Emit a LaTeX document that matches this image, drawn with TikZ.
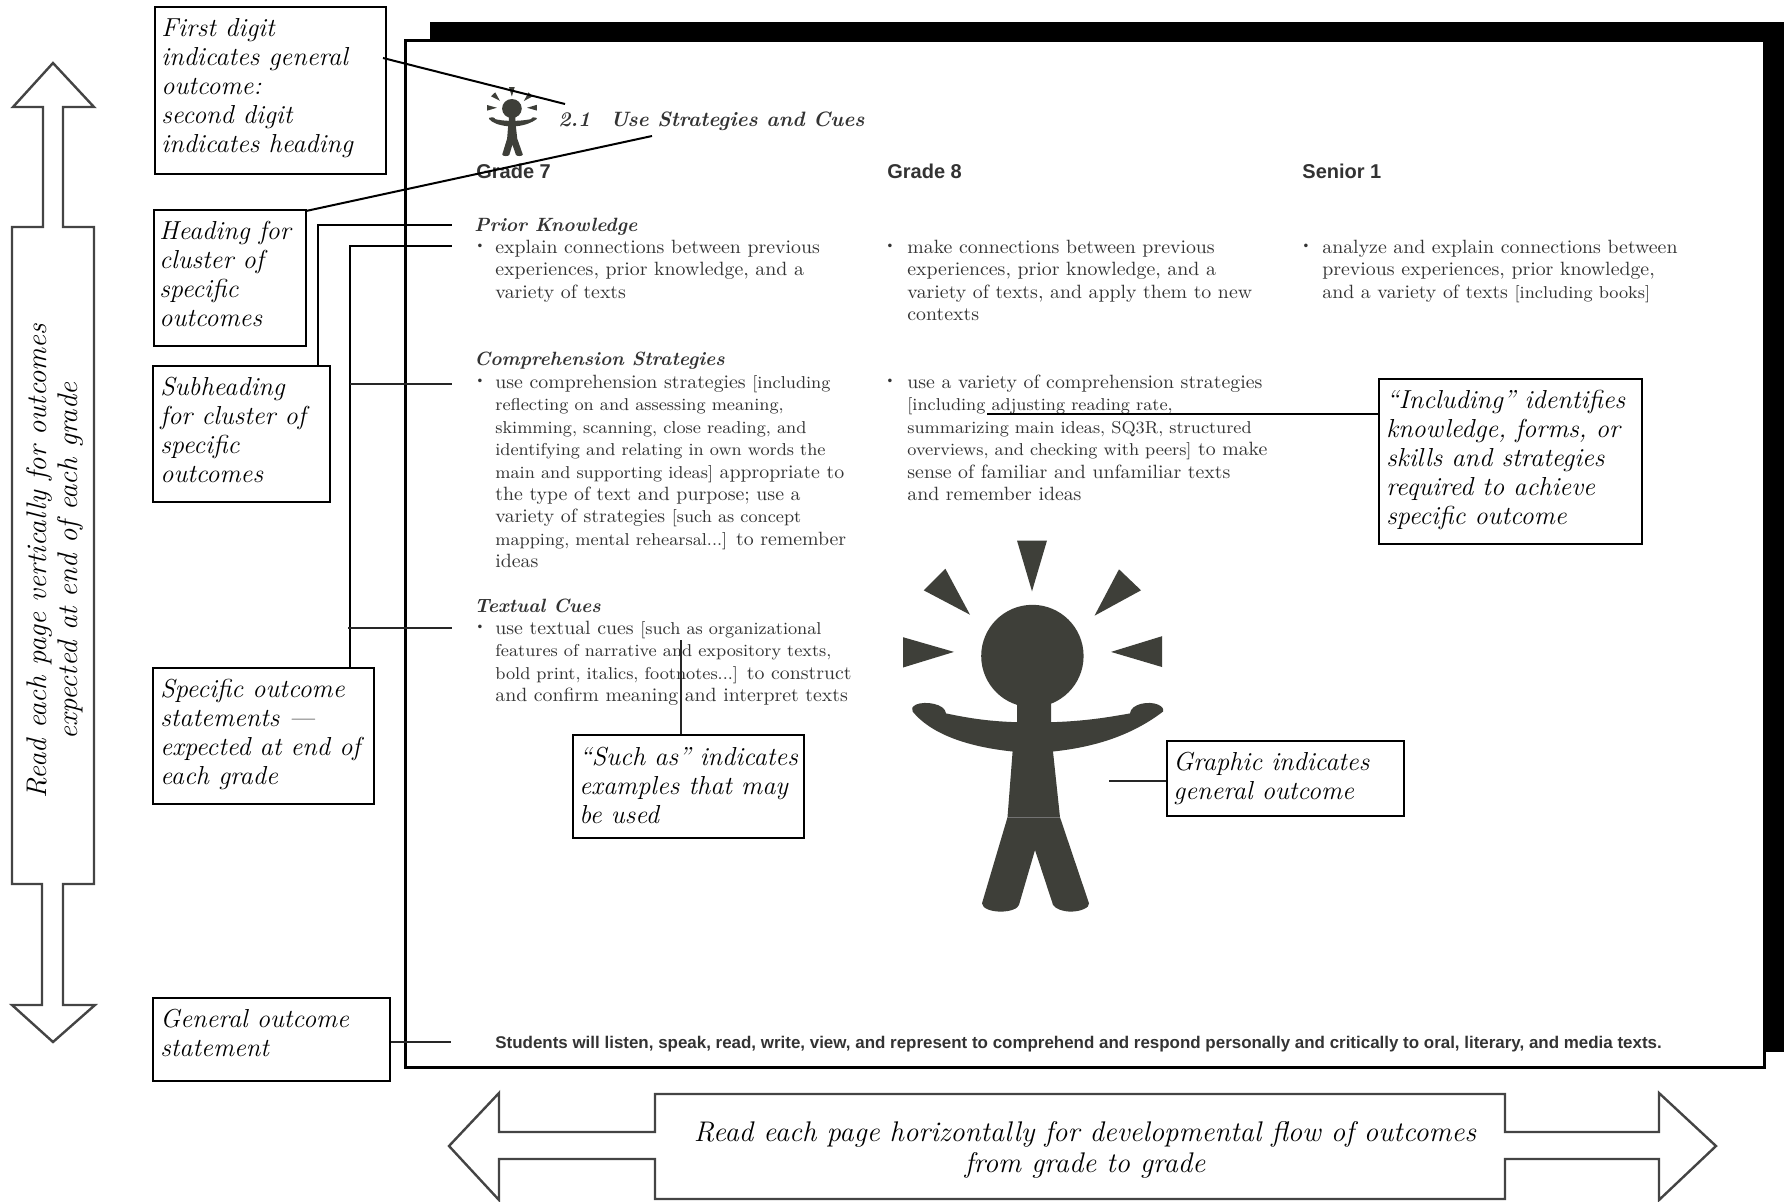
\documentclass[tikz,border=0pt]{standalone}
\usepackage{fontspec}
\setmainfont{Latin Modern Roman}
\setsansfont{Liberation Sans}
\newfontfamily\callfam[ItalicFeatures={FakeStretch=1.012}]{Latin Modern Roman}
\newfontfamily\bodyfam[FakeStretch=1.032]{Latin Modern Roman}
\newfontfamily\headfam{Latin Modern Roman}
\definecolor{inkgrey}{HTML}{3E3F39}
\definecolor{bodygrey}{HTML}{333333}
\definecolor{arrowgrey}{HTML}{444444}
\newcommand{\callsize}{\fontsize{13}{14.5}\selectfont}
\newcommand{\fstrut}{\rule{0pt}{10pt}}
\newcommand{\bstrut}{\rule{0pt}{8pt}}
\newcommand{\sm}[1]{{\fontsize{8.6}{11.2}\selectfont #1}}
\tikzset{
  cbox/.style={draw=black,line width=1pt,fill=white,anchor=north west,inner sep=0pt},
  ctext/.style={anchor=north west,inner sep=0pt,align=left,font=\callfam\itshape\callsize},
  bodytext/.style={anchor=north west,inner sep=0pt,align=left,text=bodygrey,font=\bodyfam\fontsize{9.6}{11.2}\selectfont},
  subhead/.style={anchor=base west,inner sep=0pt,text=bodygrey,font=\headfam\bfseries\itshape\fontsize{9.6}{11.2}\selectfont},
  gradehead/.style={anchor=base west,inner sep=0pt,text=bodygrey,font=\sffamily\bfseries\fontsize{10}{12}\selectfont},
  bulletmark/.style={anchor=base,inner sep=0pt,text=bodygrey,font=\fontsize{6}{6}\selectfont},
  conn/.style={draw=black,line width=1pt},
  connthin/.style={draw=black!85,line width=0.8pt},
  bigarrow/.style={draw=arrowgrey,line width=1.2pt,fill=white,line join=miter},
  arrowtext/.style={inner sep=0pt,align=center,font=\callfam\itshape\fontsize{14.2}{15.5}\selectfont}
}
\newcommand{\callout}[8]{%
  \node[cbox,minimum width={(#4-#2)*0.5pt},minimum height={(#5-#3)*0.5pt}] (#1) at (#2,#3) {};
  \node[ctext] (#1-t) at (#6,#7-20) {\fstrut #8};}
\newcommand{\bullline}[5]{%
  \node[bulletmark] (#1-b) at (#2,#4-5) {•};
  \node[bodytext] (#1) at (#3,#4-16) {\bstrut #5};}
\newcommand{\personshape}{%
  \fill[inkgrey] (1017,540.5)--(1047,540.5)--(1032,591.3)--cycle;
  \fill[inkgrey] (945.4,568.8)--(923.7,590.3)--(970,614.7)--cycle;
  \fill[inkgrey] (1119,569.3)--(1141,590.3)--(1094.5,615.7)--cycle;
  \fill[inkgrey] (903,637.2)--(903,667.5)--(954,651.9)--cycle;
  \fill[inkgrey] (1162,636.2)--(1162,667)--(1111,651.9)--cycle;
  \fill[inkgrey] (1032.4,656) circle (51.2);
  \fill[inkgrey] (1017,688) -- (1017,722.2)
    .. controls (985,721.2) and (965,717.3) .. (946,713.4)
    .. controls (945,703.6) and (925,700.7) .. (916,704.6)
    .. controls (912,706.5) and (911,709.5) .. (912.7,711.6)
    .. controls (930,732.9) and (965,746.6) .. (1012.6,751.5)
    -- (1007.5,817.3) -- (982,903.3)
    .. controls (982,908.7) and (992,911.6) .. (1000.5,911.6)
    .. controls (1010,911.6) and (1018,908.7) .. (1019,904.8)
    -- (1035,850) -- (1053,904.8)
    .. controls (1055,908.7) and (1063,911.6) .. (1071,911.6)
    .. controls (1080,911.6) and (1090,907.7) .. (1089,903.3)
    -- (1060,817.3) -- (1053,751.5)
    .. controls (1100,746.6) and (1135,732.9) .. (1163,711.6)
    .. controls (1164,708.5) and (1162,706.5) .. (1158,704.6)
    .. controls (1149,700.7) and (1131,703.6) .. (1130,713.4)
    .. controls (1108,717.3) and (1085,721.2) .. (1051,722.2)
    -- (1051,688) -- cycle;
}
\begin{document}
\begin{tikzpicture}[x=0.5pt,y=-0.5pt]
\useasboundingbox (0,0) rectangle (1784,1201);
% page with its shadow
\fill[black] (430,22) rectangle (1784,1052);
\draw[black,line width=1.5pt,fill=white] (405,40) rectangle (1764,1067);
% big arrows
\draw[bigarrow] (53,63)--(94,107)--(63,107)--(63,227)--(94,227)--(94,884)--(63,884)--(63,1005)--(95,1005)--(53,1042)--(12,1005)--(42,1005)--(42,884)--(12,884)--(12,227)--(43,227)--(43,107)--(13,107)--cycle;
\node[arrowtext,rotate=90] (vtext) at (55,561) {Read each page vertically for outcomes\\expected at end of each grade};
\draw[bigarrow] (449,1146)--(499,1093)--(499,1132)--(655,1132)--(655,1094)--(1505,1094)--(1505,1132)--(1659,1132)--(1659,1093)--(1716,1146)--(1659,1200)--(1659,1159)--(1505,1159)--(1505,1199)--(655,1199)--(655,1159)--(499,1159)--(499,1200)--cycle;
\node[arrowtext] (htext) at (1085,1150) {Read each page horizontally for developmental flow of outcomes\\from grade to grade};
% people
\personshape
\fill[black!55] (1007.5,816.8) rectangle (1060,817.8);
\begin{scope}[shift={(313.7,-13.5)},xscale=0.192,yscale=0.186]
\personshape
\end{scope}
% title and grade headings
\node[anchor=base west,inner sep=0pt,text=bodygrey,font=\headfam\bfseries\itshape\fontsize{10.4}{12}\selectfont] (tnum) at (558,126) {2.1};
\node[anchor=base west,inner sep=0pt,text=bodygrey,font=\headfam\bfseries\itshape\fontsize{10.4}{12}\selectfont] (ttitle) at (610,126) {Use Strategies and Cues};
\node[gradehead] (g7) at (476,178) {Grade 7};
\node[gradehead] (g8) at (887,178) {Grade 8};
\node[gradehead] (s1) at (1302,178) {Senior 1};
% Prior knowledge
\node[subhead] (h1) at (474,231) {Prior Knowledge};
\bullline{p7}{480}{495}{253}{explain connections between previous\\experiences, prior knowledge, and a\\variety of texts}
\bullline{p8}{890}{907}{253}{make connections between previous\\experiences, prior knowledge, and a\\variety of texts, and apply them to new\\contexts}
\bullline{ps}{1306}{1322}{253}{analyze and explain connections between\\previous experiences, prior knowledge,\\and a variety of texts \sm{[including books]}}
% Comprehension
\node[subhead] (h2) at (474,365) {Comprehension Strategies};
\bullline{c7}{480}{495}{388}{use comprehension strategies \sm{[including}\\\sm{reflecting on and assessing meaning,}\\\sm{skimming, scanning, close reading, and}\\\sm{identifying and relating in own words the}\\\sm{main and supporting ideas]} appropriate to\\the type of text and purpose; use a\\variety of strategies \sm{[such as concept}\\\sm{mapping, mental rehearsal...]} to remember\\ideas}
\bullline{c8}{890}{907}{388}{use a variety of comprehension strategies\\\sm{[including adjusting reading rate,}\\\sm{summarizing main ideas, SQ3R, structured}\\\sm{overviews, and checking with peers]} to make\\sense of familiar and unfamiliar texts\\and remember ideas}
% Textual cues
\node[subhead] (h3) at (474,612) {Textual Cues};
\bullline{t7}{480}{495}{634}{use textual cues \sm{[such as organizational}\\\sm{features of narrative and expository texts,}\\\sm{bold print, italics, footnotes...]} to construct\\and confirm meaning and interpret texts}
% general outcome
\node[anchor=base west,inner sep=0pt,font=\sffamily\bfseries\fontsize{8.47}{10}\selectfont,text=bodygrey] (gos) at (495,1048) {Students will listen, speak, read, write, view, and represent to comprehend and respond personally and critically to oral, literary, and media texts.};
% callouts
\callout{c1}{154}{6}{385}{173}{161}{36}{First digit\\indicates general\\outcome:\\second digit\\indicates heading}
\callout{c2}{153}{209}{305}{345}{159}{239}{Heading for\\cluster of\\specific\\outcomes}
\callout{c3}{152}{365}{329}{501}{160}{395}{Subheading\\for cluster of\\specific\\outcomes}
\callout{c4}{152}{667}{373}{803}{160}{697}{Specific outcome\\statements —\\expected at end of\\each grade}
\callout{c5}{152}{997}{389}{1080}{160}{1027}{General outcome\\statement}
\callout{c6}{1378}{378}{1641}{543}{1386}{408}{“Including” identifies\\knowledge, forms, or\\skills and strategies\\required to achieve\\specific outcome}
\callout{c7b}{572}{734}{803}{837}{579}{765}{“Such as” indicates\\examples that may\\be used}
\callout{c8b}{1166}{740}{1403}{815}{1173}{770}{Graphic indicates\\general outcome}
% connector ends
\coordinate (k1) at (383,58);  \coordinate (k2) at (565,104);
\coordinate (k3) at (306,211); \coordinate (k4) at (652,136);
\coordinate (k5) at (318,225); \coordinate (k6) at (452,225);
\coordinate (k7) at (350,246); \coordinate (k8) at (452,246);
\coordinate (k9) at (350,384); \coordinate (k10) at (452,384);
\coordinate (k11) at (348,628); \coordinate (k12) at (452,628);
\coordinate (k13) at (451,1042);
\coordinate (k14) at (987,414);
\coordinate (k15) at (681,640);
\coordinate (k16) at (1109,781);
% connectors
\draw[conn] (k1) -- (k2);
\draw[conn] (k3) -- (k4);
\draw[conn] (c3.north -| k5) -- (k5) -- (k6);
\draw[conn] (c4.north -| k7) -- (k7) -- (k8);
\draw[connthin] (k9) -- (k10);
\draw[connthin] (k11) -- (k12);
\draw[connthin] (c5.east |- k13) -- (k13);
\draw[conn] (c6.west |- k14) -- (k14);
\draw[connthin] (c7b.north -| k15) -- (k15);
\draw[connthin] (c8b.west |- k16) -- (k16);
\end{tikzpicture}
\end{document}
